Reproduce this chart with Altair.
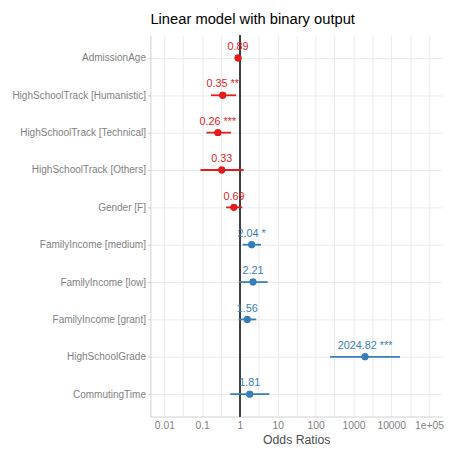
import altair as alt
import pandas as pd

terms = ["AdmissionAge", "HighSchoolTrack [Humanistic]", "HighSchoolTrack [Technical]",
         "HighSchoolTrack [Others]", "Gender [F]", "FamilyIncome [medium]",
         "FamilyIncome [low]", "FamilyIncome [grant]", "HighSchoolGrade", "CommutingTime"]
estimates = [0.89, 0.35, 0.26, 0.33, 0.69, 2.04, 2.21, 1.56, 2024.82, 1.81]
ci_low = [0.85, 0.17, 0.13, 0.09, 0.43, 1.17, 0.93, 0.92, 240.0, 0.55]
ci_high = [0.93, 0.79, 0.58, 1.25, 1.15, 3.6, 5.4, 2.7, 17000.0, 6.0]
stars = ["", "**", "***", "", "", "*", "", "", "***", ""]

axis_values = [0.01, 0.0316, 0.1, 0.316, 1, 3.16, 10, 31.6, 100, 316, 1000, 3162, 10000, 31623, 100000]

df = pd.DataFrame({
    "term": terms,
    "est": estimates,
    "lo": ci_low,
    "hi": ci_high,
    "label": [(f"{e:.2f} {s}").strip() for e, s in zip(estimates, stars)],
    "dir": ["neg" if e < 1 else "pos" for e in estimates],
})

FONT = "Liberation Sans"
H = 388

xscale = alt.Scale(type="log", domain=[0.00427, 220800], nice=False)
yscale = alt.Scale(type="point", padding=0.6)
col = alt.Color("dir:N", scale=alt.Scale(domain=["neg", "pos"], range=["#E41A1C", "#377EB8"]), legend=None)

label_expr = ("indexof([0.01,0.1,1,10,100,1000,10000], datum.value) >= 0 ? format(datum.value, '~g') : "
              "(datum.value == 100000 ? '1e+05' : '')")

x_enc = alt.X("est:Q", scale=xscale, title="Odds Ratios",
              axis=alt.Axis(values=axis_values, labelExpr=label_expr, grid=True, ticks=False,
                            labelPadding=4, titlePadding=3, labelFontSize=10.5, titleFontSize=12.5,
                            titleFontWeight="normal",
                            labelColor="#7f7f7f", titleColor="#4d4d4d", labelFont=FONT, titleFont=FONT,
                            domainColor="#cfcfcf", gridColor="#ebebeb", labelFlush=False))
y_enc = alt.Y("term:N", sort=terms, scale=yscale, title=None,
              axis=alt.Axis(grid=True, ticks=True, tickSize=3, tickColor="#cfcfcf", labelPadding=2,
                            labelFontSize=10.2, labelColor="#7f7f7f", labelFont=FONT,
                            domainColor="#cfcfcf", gridColor="#ebebeb", labelLimit=300))

base = alt.Chart(df)

vline = base.mark_rule(color="#404040", strokeWidth=1).encode(x=alt.datum(1), y=alt.value(0), y2=alt.value(H))
bars = base.mark_rule(strokeWidth=1.8).encode(
    x=alt.X("lo:Q", scale=xscale), x2="hi:Q", y=alt.Y("term:N", sort=terms, scale=yscale), color=col)
points = base.mark_circle(size=50, opacity=1).encode(x=x_enc, y=y_enc, color=col)
labels = base.mark_text(dy=-11, fontSize=11, font=FONT).encode(
    x=alt.X("est:Q", scale=xscale), y=alt.Y("term:N", sort=terms, scale=yscale), text="label:N", color=col)

chart = alt.layer(points, vline, bars, points, labels).properties(
    width=297, height=H,
    autosize=alt.AutoSizeParams(type="none"),
    padding={"left": 145, "top": 24, "right": 3, "bottom": 28},
    title=alt.TitleParams("Linear model with binary output", anchor="start", frame="group", fontSize=15,
                          font=FONT, color="black", fontWeight="normal", offset=8),
).configure_view(stroke=None)

chart.save("out.html", embed_options={"renderer": "svg", "actions": False})
